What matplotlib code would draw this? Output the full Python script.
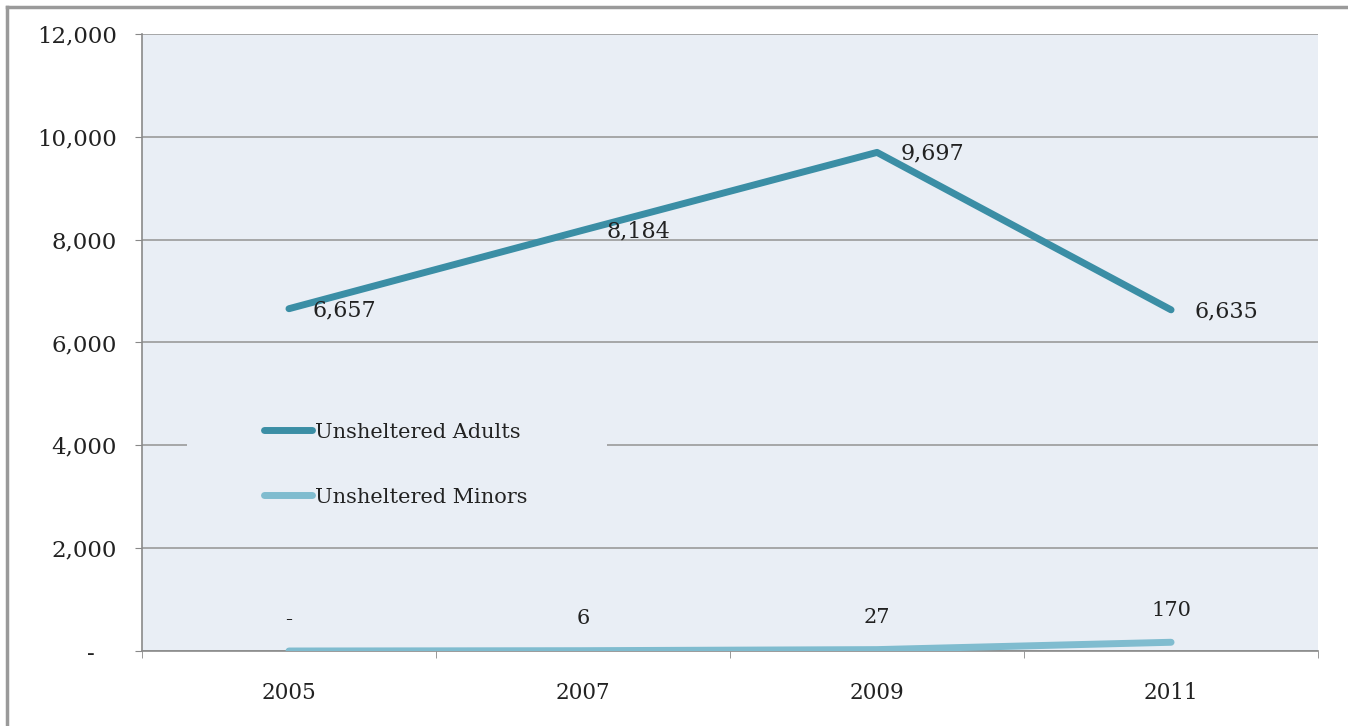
import matplotlib.pyplot as plt
from matplotlib.lines import Line2D
from matplotlib.patches import Rectangle
from matplotlib.ticker import FuncFormatter

years = ['2005', '2007', '2009', '2011']
adults = [6657, 8184, 9697, 6635]
minors = [0, 6, 27, 170]
adult_labels = ['6,657', '8,184', '9,697', '6,635']
minor_labels = ['-', '6', '27', '170']

bg = '#e9eef5'
c_adult = '#3b8ea5'
c_minor = '#80bccf'
txt = '#222222'

plt.rcParams['font.family'] = ['DejaVu Serif']

fig = plt.figure(figsize=(13.48, 7.26), dpi=100)
ax = fig.add_axes([0.1053, 0.1033, 0.8725, 0.8499])
ax.set_facecolor(bg)

x = list(range(len(years)))
ax.plot(x, adults, color=c_adult, lw=5, solid_capstyle='round', zorder=3,
        label='Unsheltered Adults')
ax.plot(x, minors, color=c_minor, lw=5, solid_capstyle='round', zorder=3,
        label='Unsheltered Minors')

for xi, v, s in zip(x, adults, adult_labels):
    ax.annotate(s, (xi, v), xytext=(17, -1), textcoords='offset points',
                ha='left', va='center', fontsize=16, color=txt, zorder=4)
for xi, v, s in zip(x, minors, minor_labels):
    ax.annotate(s, (xi, v), xytext=(0, 23), textcoords='offset points',
                ha='center', va='center', fontsize=15, color=txt, zorder=4)

ax.set_xlim(-0.5, 3.5)
ax.set_ylim(0, 12000)
ax.set_yticks(range(0, 12001, 2000))
# accounting style: zero shown as a dash set in from the right
ax.yaxis.set_major_formatter(FuncFormatter(lambda v, p: '-   ' if v == 0 else f'{int(v):,}'))
ax.set_xticks(x)
ax.set_xticklabels(years)
ax.set_xticks([-0.5, 0.5, 1.5, 2.5, 3.5], minor=True)

ax.tick_params(axis='y', length=5, color='#888888', pad=13, labelsize=16.5, labelcolor=txt)
ax.tick_params(axis='x', which='major', length=0, pad=22, labelsize=15.5, labelcolor=txt)
ax.tick_params(axis='x', which='minor', length=5, color='#888888')

ax.grid(axis='y', color='#9a9a9a', lw=1.2)
ax.set_axisbelow(True)
for sp in ['top', 'right']:
    ax.spines[sp].set_visible(False)
for sp in ['left', 'bottom']:
    ax.spines[sp].set_color('#8a8a8a')
    ax.spines[sp].set_linewidth(1.2)

# background block behind the legend hides the gridline
ax.add_patch(Rectangle((0.038, 0.19), 0.357, 0.22, transform=ax.transAxes,
                       facecolor=bg, edgecolor='none', zorder=1))

leg = ax.legend(loc='center left', bbox_to_anchor=(0.1037, 0.302), frameon=False,
                borderpad=0, borderaxespad=0, handlelength=2.3, handletextpad=0.15,
                labelspacing=2.2, fontsize=15)
for t in leg.get_texts():
    t.set_color(txt)

# outer border on top and left
fig.add_artist(Line2D([0.0052, 1], [0.991, 0.991], color='#9a9a9a', lw=2.5))
fig.add_artist(Line2D([0.0052, 0.0052], [0, 0.991], color='#9a9a9a', lw=2.5))

fig.savefig('out.png', dpi=100)
